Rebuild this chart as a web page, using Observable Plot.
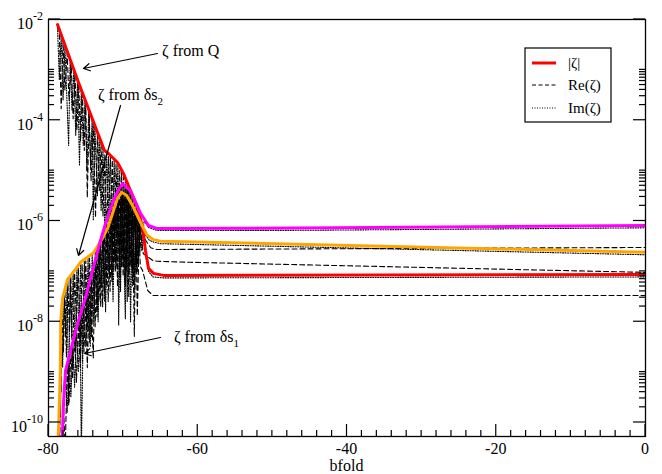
<!DOCTYPE html>
<html><head><meta charset="utf-8">
<script src="https://cdn.jsdelivr.net/npm/d3@7"></script>
<script src="https://cdn.jsdelivr.net/npm/@observablehq/plot@0.6"></script>
<style>
body{margin:0;background:#fff}
#chart{position:relative;width:662px;height:474px}
svg{font-family:"Liberation Serif","Times New Roman",serif}
</style>
</head><body><div id="chart"></div>
<script>
// ---- data: [bfold, log10(value)] ----
const zetaQAbs = [[-78.79,-2.10],[-75.98,-3.25],[-73.03,-4.40],[-72.5,-4.60],[-71.96,-4.66],[-70.75,-4.84],[-69.95,-5.06],[-69.01,-5.40],[-68.07,-5.73],[-67.40,-6.13],[-67.0,-6.59],[-66.6,-6.94],[-65.93,-7.04],[-64.59,-7.08],[0,-7.06]];
const zetaQRe = [[-78.8,-2.14],[-78.55,-2.25],[-78.3,-3.77],[-78.05,-2.45],[-77.8,-3.4],[-77.5,-2.67],[-77.25,-3.6],[-76.95,-2.89],[-76.7,-3.97],[-76.45,-3.09],[-76.2,-4.2],[-75.95,-3.29],[-75.7,-4.4],[-75.45,-3.49],[-75.2,-4.6],[-75.0,-3.67],[-74.8,-5.53],[-74.55,-3.85],[-74.3,-5.20],[-74.0,-4.07],[-73.7,-5.93],[-73.45,-4.29],[-73.2,-5.4],[-72.95,-4.47],[-72.7,-5.9],[-72.45,-4.66],[-72.2,-6.3],[-71.95,-4.72],[-71.7,-6.0],[-71.45,-4.79],[-71.2,-6.8],[-70.95,-4.86],[-70.7,-6.4],[-70.45,-5.0],[-70.2,-6.9],[-69.95,-5.13],[-69.7,-7.3],[-69.45,-5.3],[-69.2,-6.6],[-68.95,-5.47],[-68.7,-7.2],[-68.45,-5.65],[-68.1,-7.0],[-67.95,-5.85],[-67.7,-6.9],[-67.4,-6.98],[-66.7,-7.38],[-66.0,-7.48],[0,-7.48]];
const zetaQIm = [[-78.8,-2.12],[-78.55,-3.2],[-78.3,-2.33],[-78.05,-3.6],[-77.8,-2.53],[-77.3,-4.50],[-77.1,-2.78],[-76.85,-3.8],[-76.6,-2.97],[-76.35,-4.3],[-76.1,-3.17],[-75.85,-4.9],[-75.6,-3.37],[-75.35,-4.5],[-75.1,-3.57],[-74.85,-5.0],[-74.6,-3.77],[-74.35,-4.9],[-74.15,-3.95],[-74.0,-5.99],[-73.8,-4.1],[-73.45,-5.5],[-73.2,-4.32],[-72.95,-5.8],[-72.7,-4.56],[-72.45,-6.2],[-72.2,-4.66],[-71.95,-5.9],[-71.7,-4.72],[-71.45,-6.6],[-71.2,-4.79],[-70.95,-6.2],[-70.7,-4.89],[-70.45,-7.1],[-70.2,-5.03],[-69.95,-6.6],[-69.7,-5.18],[-69.45,-7.6],[-69.2,-5.35],[-68.95,-6.9],[-68.7,-5.52],[-68.45,-7.4],[-68.2,-5.7],[-67.95,-6.8],[-67.7,-5.95],[-67.4,-6.2],[-67.0,-6.65],[-66.6,-7.0],[-66.0,-7.11],[-64.6,-7.13],[0,-7.11]];

const zetaS1Abs = [[-78.3,-10.6],[-78.12,-10.16],[-77.99,-9.62],[-77.72,-8.97],[-76.78,-8.43],[-75.98,-7.98],[-75.04,-7.52],[-74.37,-7.14],[-73.70,-6.76],[-73.03,-6.39],[-72.36,-6.05],[-71.29,-5.59],[-70.62,-5.38],[-70.08,-5.26],[-69.01,-5.40],[-67.67,-5.85],[-66.6,-6.09],[-65.39,-6.15],[-46.23,-6.14],[0,-6.09]];
const zetaS1Re = [[-78.25,-10.6],[-78.0,-9.7],[-77.75,-10.5],[-77.5,-8.9],[-77.25,-9.6],[-77.0,-8.6],[-76.8,-9.13],[-76.5,-8.32],[-76.25,-9.2],[-76.0,-8.04],[-75.75,-8.9],[-75.5,-7.8],[-75.25,-8.6],[-75.0,-7.55],[-74.8,-8.91],[-74.5,-7.25],[-74.25,-8.3],[-74.0,-6.95],[-73.75,-8.1],[-73.5,-6.7],[-73.25,-7.6],[-73.0,-6.43],[-72.75,-7.7],[-72.5,-6.17],[-72.25,-7.3],[-72.0,-5.97],[-71.75,-7.4],[-71.5,-5.73],[-71.25,-7.0],[-71.0,-5.55],[-70.75,-7.3],[-70.5,-5.40],[-70.25,-6.9],[-70.0,-5.32],[-69.75,-7.2],[-69.5,-5.36],[-69.25,-7.5],[-69.0,-5.45],[-68.75,-7.0],[-68.5,-5.62],[-68.25,-6.9],[-68.0,-5.80],[-67.75,-6.6],[-67.5,-6.05],[-67.0,-6.38],[-66.3,-6.53],[-65.5,-6.566],[0,-6.526]];
const zetaS1Im = [[-78.25,-10.8],[-78.0,-9.75],[-77.75,-9.05],[-77.5,-9.8],[-77.25,-8.75],[-77.0,-9.5],[-76.75,-8.47],[-76.5,-9.3],[-76.25,-8.17],[-76.0,-9.0],[-75.75,-7.9],[-75.6,-10.6],[-75.3,-7.7],[-75.0,-8.5],[-74.75,-7.4],[-74.5,-8.4],[-74.25,-7.1],[-74.0,-8.0],[-73.75,-6.82],[-73.5,-7.8],[-73.25,-6.55],[-73.0,-7.3],[-72.75,-6.28],[-72.5,-7.6],[-72.25,-6.03],[-72.0,-7.0],[-71.75,-5.83],[-71.5,-7.1],[-71.25,-5.62],[-71.0,-6.8],[-70.75,-5.47],[-70.6,-8.07],[-70.3,-5.33],[-70.0,-6.9],[-69.75,-5.31],[-69.5,-7.0],[-69.25,-5.38],[-69.0,-8.0],[-68.75,-5.52],[-68.5,-7.1],[-68.25,-5.68],[-68.0,-6.8],[-67.75,-5.87],[-67.5,-6.6],[-67.2,-6.0],[-66.6,-6.13],[-65.4,-6.19],[-46,-6.185],[0,-6.135]];

const zetaS2Abs = [[-78.85,-10.6],[-78.66,-10.16],[-78.53,-9.56],[-78.42,-8.97],[-78.36,-7.98],[-78.12,-7.54],[-77.45,-7.16],[-76.38,-6.96],[-75.71,-6.82],[-73.97,-6.63],[-73.03,-6.41],[-72.09,-6.15],[-71.29,-5.79],[-70.75,-5.55],[-70.22,-5.43],[-69.55,-5.49],[-68.74,-5.69],[-67.67,-6.03],[-66.73,-6.29],[-65.93,-6.37],[-64.99,-6.40],[0,-6.62]];
const zetaS2Re = [[-78.85,-10.8],[-78.6,-9.95],[-78.5,-10.6],[-78.4,-8.95],[-78.3,-9.4],[-78.2,-7.7],[-78.0,-8.6],[-77.8,-7.38],[-77.6,-8.7],[-77.4,-7.2],[-77.2,-8.2],[-77.0,-7.1],[-76.8,-8.9],[-76.5,-7.03],[-76.25,-8.0],[-76.0,-6.93],[-75.75,-8.4],[-75.5,-6.85],[-75.25,-7.9],[-75.0,-6.79],[-74.75,-8.2],[-74.5,-6.74],[-74.0,-8.73],[-73.75,-6.62],[-73.5,-7.9],[-73.25,-6.5],[-73.0,-7.7],[-72.75,-6.38],[-72.5,-7.4],[-72.25,-6.22],[-72.0,-7.6],[-71.75,-6.05],[-71.5,-7.2],[-71.25,-5.82],[-71.0,-7.0],[-70.75,-5.62],[-70.5,-6.8],[-70.25,-5.52],[-70.0,-7.1],[-69.75,-5.52],[-69.5,-6.9],[-69.25,-5.6],[-68.95,-6.9],[-68.75,-5.75],[-68.5,-8.29],[-68.3,-5.88],[-68.1,-7.88],[-67.8,-6.05],[-67.3,-6.65],[-66.06,-6.78],[-65.4,-6.80],[-61,-6.82],[0,-7.02]];
const zetaS2Im = [[-78.85,-10.6],[-78.7,-10.1],[-78.55,-10.8],[-78.45,-9.2],[-78.38,-9.9],[-78.3,-7.85],[-78.1,-8.9],[-77.9,-7.42],[-77.7,-8.3],[-77.5,-7.22],[-77.3,-9.66],[-77.1,-7.08],[-76.9,-8.3],[-76.7,-7.0],[-76.4,-8.6],[-76.2,-6.93],[-75.9,-8.2],[-75.7,-6.84],[-75.45,-8.8],[-75.2,-6.78],[-74.9,-8.0],[-74.7,-6.72],[-74.4,-8.5],[-74.15,-6.66],[-73.9,-7.6],[-73.6,-6.55],[-73.35,-8.0],[-73.1,-6.44],[-72.85,-7.3],[-72.6,-6.3],[-72.35,-7.8],[-72.1,-6.16],[-71.85,-7.1],[-71.6,-5.94],[-71.35,-7.6],[-71.1,-5.72],[-70.85,-6.9],[-70.6,-5.55],[-70.35,-7.4],[-70.1,-5.47],[-69.7,-7.94],[-69.5,-5.52],[-69.25,-7.0],[-69.0,-5.66],[-68.75,-7.3],[-68.5,-5.8],[-68.25,-7.0],[-68.0,-5.96],[-67.6,-6.3],[-67.0,-6.28],[-66.5,-6.38],[-65.9,-6.42],[-65.0,-6.45],[0,-6.67]];

// ---- axes ----
const xMajorTicks = [-80, -60, -40, -20, 0];
const xMinorTicks = [-78,-76,-74,-72,-70,-68,-66,-64,-62,-58,-56,-54,-52,-50,-48,-46,-44,-42,-38,-36,-34,-32,-30,-28,-26,-24,-22,-18,-16,-14,-12,-10,-8,-6,-4,-2];
const yMajorExponents = [-2, -4, -6, -8, -10];
const yMinorDecades = [-4, -6, -8, -10];
const yMinorMultipliers = [2, 3, 4, 5, 6, 7, 8, 9, 10];
const yDomain = [5.27e-11, 1e-2];
const xLabel = "bfold";

// ---- legend & annotations ----
const legendLabels = ["|ζ|", "Re(ζ)", "Im(ζ)"];
const annotLabels = ["ζ from Q", "ζ from δs", "ζ from δs"];
const annotSubs = ["", "2", "1"];
const annotTextPos = [[-64.72, -2.734], [-73.30, -3.608], [-63.12, -8.412]];
const annotArrows = [[-65.39, -2.675, -75.31, -2.973], [-70.35, -3.707, -75.98, -6.685], [-64.99, -8.313, -75.18, -8.630]];

const rows = (arr) => arr.map(([x, e]) => ({x, y: Math.pow(10, e)}));
const arrows = annotArrows.map(([x1, e1, x2, e2]) => ({x1, y1: Math.pow(10, e1), x2, y2: Math.pow(10, e2)}));

const dash = "5,3", dot = "1,1.5";
const blk = (data, da) => Plot.line(rows(data), {x: "x", y: "y", stroke: "black", strokeWidth: 1.1, strokeDasharray: da, clip: true});
const col = (data, c) => Plot.line(rows(data), {x: "x", y: "y", stroke: c, strokeWidth: 3, clip: true});

const chart = Plot.plot({
  width: 662, height: 474,
  marginLeft: 48, marginRight: 17, marginTop: 19, marginBottom: 38,
  style: {fontFamily: "Liberation Serif", background: "#fff"},
  x: {domain: [-80, 0], axis: null},
  y: {type: "log", domain: yDomain, axis: null},
  marks: [
    blk(zetaQRe, dash), blk(zetaQIm, dot),
    blk(zetaS2Re, dash), blk(zetaS2Im, dot),
    blk(zetaS1Re, dash), blk(zetaS1Im, dot),
    col(zetaQAbs, "#ff0000"),
    col(zetaS2Abs, "#ffa500"),
    col(zetaS1Abs, "#ff00ff"),
    Plot.arrow(arrows, {x1: "x1", y1: "y1", x2: "x2", y2: "y2", stroke: "black", strokeWidth: 1.2, headLength: 9}),
    Plot.frame({stroke: "black", strokeWidth: 1.3})
  ]
});
document.getElementById("chart").appendChild(chart);

const sx = chart.scale("x"), sy = chart.scale("y");
const X = v => sx.apply(v), Y = v => sy.apply(v);
const L = X(-80), R = X(0), T = Y(yDomain[1]), B = Y(yDomain[0]);
const svg = d3.select(chart);
const g = svg.append("g").attr("stroke", "black").attr("stroke-width", 1.2);
xMajorTicks.forEach(v => g.append("line").attr("x1", X(v)).attr("x2", X(v)).attr("y1", B).attr("y2", B - 12));
xMinorTicks.forEach(v => g.append("line").attr("x1", X(v)).attr("x2", X(v)).attr("y1", B).attr("y2", B - 6));
yMajorExponents.forEach(e => {
  const y = Y(Math.pow(10, e));
  g.append("line").attr("x1", L).attr("x2", L + 12).attr("y1", y).attr("y2", y);
  g.append("line").attr("x1", R).attr("x2", R - 12).attr("y1", y).attr("y2", y);
});
yMinorDecades.forEach(d => yMinorMultipliers.forEach(m => {
  const y = Y(m * Math.pow(10, d));
  g.append("line").attr("x1", L).attr("x2", L + 6).attr("y1", y).attr("y2", y);
  g.append("line").attr("x1", R).attr("x2", R - 6).attr("y1", y).attr("y2", y);
}));
const tg = svg.append("g").attr("fill", "black").style("font-family", "Liberation Serif");
xMajorTicks.forEach(v => tg.append("text").attr("x", X(v)).attr("y", B + 18).attr("text-anchor", "middle").attr("font-size", 16).text(v));
tg.append("text").attr("x", (L + R) / 2).attr("y", B + 35).attr("text-anchor", "middle").attr("font-size", 16).text(xLabel);
yMajorExponents.forEach(e => {
  const t = tg.append("text").attr("x", 43).attr("y", Y(Math.pow(10, e)) + 10).attr("text-anchor", "end").attr("font-size", 16);
  t.append("tspan").text("10");
  t.append("tspan").attr("dy", -9).attr("font-size", 12).text(String(e));
});
annotLabels.forEach((s, i) => {
  const [x, e] = annotTextPos[i];
  const t = tg.append("text").attr("x", X(x)).attr("y", Y(Math.pow(10, e))).attr("text-anchor", "start").attr("font-size", 16);
  t.append("tspan").text(s);
  if (annotSubs[i]) t.append("tspan").attr("dy", 5).attr("font-size", 11).text(annotSubs[i]);
});
// legend
const lg = svg.append("g");
lg.append("rect").attr("x", 525).attr("y", 48).attr("width", 86).attr("height", 74).attr("fill", "white").attr("stroke", "black").attr("stroke-width", 1.2);
const legStyles = [{s: "#ff0000", w: 3, d: null}, {s: "black", w: 1, d: "4,2.5"}, {s: "black", w: 1, d: "1,1.5"}];
const legY = [63, 85, 108];
legendLabels.forEach((lab, i) => {
  const ln = lg.append("line").attr("x1", 532).attr("x2", 556).attr("y1", legY[i]).attr("y2", legY[i]).attr("stroke", legStyles[i].s).attr("stroke-width", legStyles[i].w);
  if (legStyles[i].d) ln.attr("stroke-dasharray", legStyles[i].d);
  lg.append("text").attr("x", 568).attr("y", legY[i] + 5).attr("text-anchor", "start").attr("font-size", 15).style("font-family", "Liberation Serif").text(lab);
});
</script>
</body></html>
